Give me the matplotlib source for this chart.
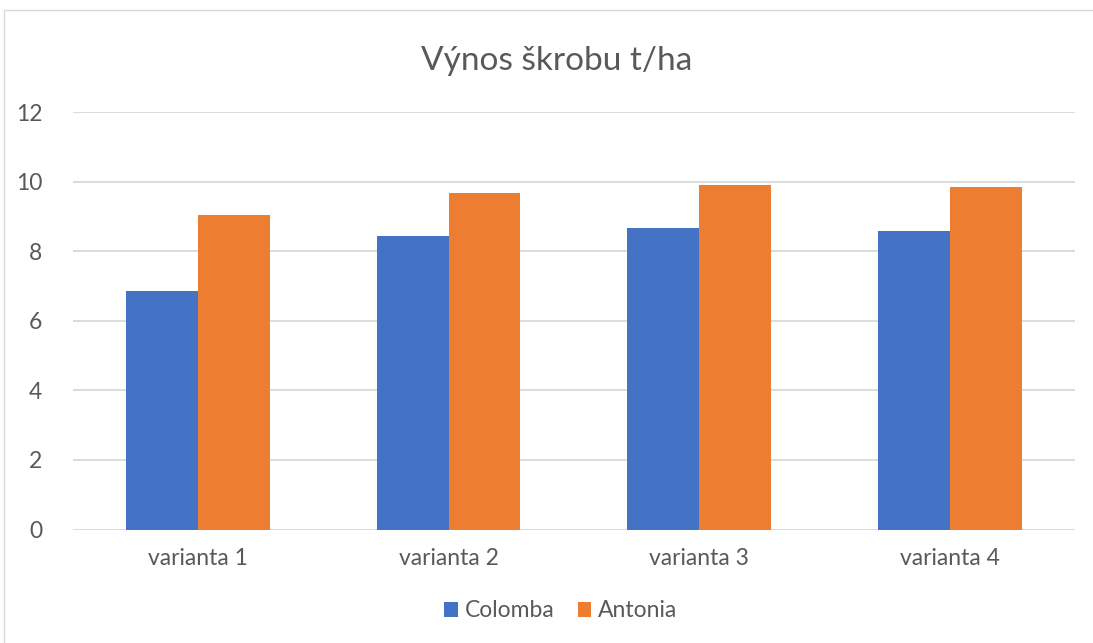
import numpy as np
import matplotlib.pyplot as plt
from matplotlib.patches import Rectangle

categories = ["varianta 1", "varianta 2", "varianta 3", "varianta 4"]
colomba = [6.85, 8.45, 8.68, 8.57]
antonia = [9.04, 9.66, 9.89, 9.84]

plt.rcParams['font.family'] = ['Lato', 'DejaVu Sans']
text_color = "#595959"

fig = plt.figure(figsize=(10.93, 6.43), dpi=100)
ax = fig.add_axes([0.0665, 0.1765, 0.917, 0.6493])

x = np.arange(len(categories))
w = 0.287
ax.bar(x - w / 2, colomba, w, color="#4472C4", label="Colomba", zorder=3)
ax.bar(x + w / 2, antonia, w, color="#ED7D31", label="Antonia", zorder=3)

ax.set_xlim(-0.5, len(categories) - 0.5)
ax.set_ylim(0, 12)
ax.set_yticks(range(0, 13, 2))
ax.set_xticks(x)
ax.set_xticklabels(categories)
ax.yaxis.grid(True, color="#D9D9D9", linewidth=1.3, zorder=0)
ax.tick_params(axis="both", length=0, labelsize=16.5, colors=text_color)
ax.tick_params(axis="x", pad=13)
ax.tick_params(axis="y", pad=22)
for s in ax.spines.values():
    s.set_visible(False)

fig.text(0.509, 0.905, "Výnos škrobu t/ha", ha="center", va="center",
         fontsize=24, color=text_color)

ax.legend(loc="center", bbox_to_anchor=(0.487, -0.195), ncol=2, frameon=False,
          fontsize=16.5, labelcolor=text_color, handlelength=0.6,
          handleheight=0.6, handletextpad=0.3, columnspacing=1.0)

# chart border
fig.patches.append(Rectangle((0.004, -0.01), 1.1, 0.995, transform=fig.transFigure,
                             fill=False, edgecolor="#D9D9D9", linewidth=1))

fig.savefig("out.png", dpi=100)
